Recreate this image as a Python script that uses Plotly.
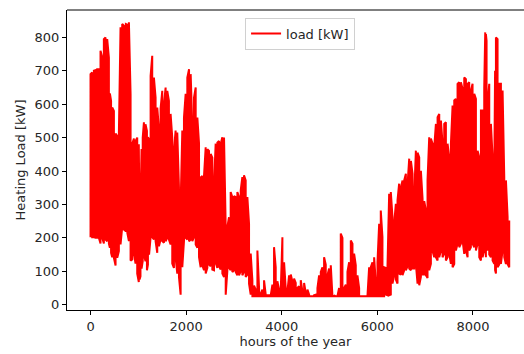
import plotly.graph_objects as go

# hour of the year, upper envelope (peaks) and lower envelope (minima) [kW]
hours = [0, 35, 70, 105, 140, 175, 209, 245, 279, 314, 349, 384, 405, 430, 454, 489, 524, 559, 593, 628, 663, 698, 740, 770, 803, 838, 873, 908, 942, 977, 1010, 1026, 1045, 1068, 1092, 1117, 1150, 1180, 1201, 1225, 1257, 1291, 1326, 1361, 1396, 1431, 1466, 1501, 1536, 1571, 1606, 1640, 1675, 1710, 1745, 1780, 1815, 1850, 1885, 1920, 1955, 1990, 2025, 2061, 2095, 2130, 2165, 2200, 2235, 2270, 2304, 2339, 2374, 2409, 2444, 2479, 2514, 2548, 2583, 2618, 2653, 2688, 2723, 2758, 2793, 2828, 2862, 2897, 2932, 2967, 3002, 3037, 3072, 3107, 3142, 3176, 3211, 3246, 3281, 3316, 3351, 3386, 3421, 3456, 3491, 3526, 3560, 3595, 3630, 3665, 3700, 3735, 3770, 3805, 3839, 3874, 3909, 3944, 3979, 4014, 4049, 4083, 4119, 4154, 4189, 4223, 4258, 4293, 4328, 4363, 4398, 4433, 4468, 4503, 4538, 4573, 4607, 4642, 4677, 4712, 4747, 4782, 4817, 4852, 4886, 4921, 4956, 4991, 5026, 5061, 5096, 5130, 5165, 5200, 5235, 5270, 5305, 5340, 5375, 5410, 5445, 5480, 5514, 5549, 5584, 5619, 5654, 5689, 5724, 5758, 5793, 5828, 5863, 5898, 5933, 5968, 6003, 6038, 6072, 6107, 6142, 6177, 6212, 6247, 6282, 6317, 6352, 6387, 6422, 6456, 6492, 6527, 6562, 6597, 6632, 6667, 6702, 6737, 6771, 6806, 6841, 6876, 6911, 6946, 6981, 7016, 7050, 7085, 7120, 7155, 7190, 7225, 7260, 7295, 7330, 7364, 7399, 7434, 7469, 7504, 7539, 7574, 7609, 7643, 7678, 7713, 7748, 7783, 7818, 7853, 7888, 7922, 7957, 7992, 8027, 8062, 8097, 8132, 8167, 8202, 8236, 8257, 8271, 8285, 8306, 8341, 8376, 8411, 8446, 8463, 8481, 8515, 8550, 8585, 8620, 8655, 8690, 8725, 8759]
upper = [690, 695, 700, 702, 705, 705, 760, 740, 795, 800, 795, 740, 632, 610, 590, 580, 512, 505, 512, 830, 840, 835, 840, 838, 845, 630, 482, 497, 490, 500, 480, 232, 300, 466, 500, 546, 540, 520, 501, 495, 685, 745, 680, 620, 590, 527, 587, 640, 600, 650, 640, 610, 571, 500, 461, 521, 515, 351, 300, 521, 560, 631, 680, 705, 690, 531, 620, 650, 560, 482, 381, 385, 385, 471, 465, 460, 451, 440, 362, 482, 485, 490, 482, 501, 500, 232, 232, 262, 337, 322, 325, 322, 337, 322, 342, 382, 387, 372, 322, 242, 153, 73, 57, 45, 162, 50, 33, 45, 73, 30, 28, 28, 28, 60, 172, 112, 70, 45, 40, 202, 127, 50, 40, 88, 90, 70, 78, 65, 50, 55, 73, 40, 65, 35, 45, 30, 25, 25, 28, 30, 50, 88, 98, 112, 142, 120, 88, 108, 118, 50, 28, 25, 25, 50, 213, 200, 50, 60, 98, 127, 192, 182, 153, 118, 88, 50, 25, 25, 25, 25, 25, 112, 112, 127, 142, 65, 127, 242, 282, 202, 112, 110, 112, 332, 337, 262, 242, 302, 312, 362, 351, 372, 372, 392, 360, 437, 430, 392, 322, 461, 455, 441, 401, 317, 310, 282, 372, 501, 497, 482, 470, 541, 561, 571, 551, 482, 541, 546, 482, 441, 482, 596, 611, 616, 661, 666, 666, 646, 680, 675, 661, 666, 641, 661, 631, 616, 461, 441, 581, 581, 650, 815, 810, 790, 601, 661, 541, 441, 392, 700, 800, 795, 661, 661, 641, 382, 372, 262, 252]
lower = [202, 202, 202, 200, 200, 200, 183, 200, 183, 195, 190, 183, 170, 155, 142, 140, 117, 140, 160, 180, 232, 225, 220, 215, 190, 132, 135, 155, 123, 93, 68, 75, 85, 108, 130, 150, 130, 103, 120, 150, 202, 202, 195, 190, 155, 175, 195, 190, 185, 190, 200, 195, 180, 123, 110, 140, 93, 83, 30, 112, 190, 200, 195, 190, 195, 190, 202, 180, 170, 142, 112, 118, 103, 93, 110, 120, 115, 105, 103, 125, 110, 115, 105, 93, 83, 30, 100, 110, 103, 98, 103, 98, 88, 88, 100, 88, 98, 83, 90, 63, 30, 25, 25, 25, 25, 25, 25, 25, 25, 25, 25, 25, 25, 25, 25, 25, 25, 25, 25, 25, 25, 25, 25, 25, 25, 25, 25, 25, 25, 25, 25, 25, 25, 25, 25, 25, 25, 25, 25, 25, 25, 25, 25, 25, 25, 25, 25, 25, 25, 25, 25, 25, 25, 25, 25, 25, 25, 25, 25, 25, 25, 25, 25, 25, 25, 25, 25, 25, 25, 25, 25, 25, 25, 25, 25, 25, 25, 25, 25, 25, 25, 30, 28, 28, 30, 63, 88, 75, 63, 93, 90, 88, 103, 103, 115, 108, 103, 108, 108, 122, 63, 58, 83, 90, 90, 88, 80, 103, 122, 160, 142, 142, 132, 142, 162, 142, 152, 132, 142, 152, 122, 112, 122, 162, 182, 172, 182, 192, 152, 162, 142, 162, 172, 182, 172, 162, 182, 142, 132, 142, 162, 182, 142, 192, 162, 150, 142, 132, 122, 103, 93, 112, 120, 122, 162, 142, 122, 122, 112, 93, 88, 103]

series_name = "load [kW]"
x_ticks = [0, 2000, 4000, 6000, 8000]
y_ticks = [0, 100, 200, 300, 400, 500, 600, 700, 800]

# hourly load drawn as a line sweeping between each period's minimum and peak
xs, ys = [], []
for i, h in enumerate(hours):
    xs += [h, h]
    if i % 2 == 0:
        ys += [lower[i], upper[i]]
    else:
        ys += [upper[i], lower[i]]

FONT = "DejaVu Sans"
TXT = "#262626"
fig = go.Figure()
fig.add_trace(go.Scatter(x=xs, y=ys, mode="lines", name=series_name,
                         line=dict(color="#ff0000", width=2), showlegend=True))

axis_common = dict(showgrid=False, zeroline=False, showline=True, linecolor="#000000",
                   linewidth=1, ticks="outside", ticklen=4, tickwidth=1, tickcolor="#000000",
                   tickfont=dict(family=FONT, size=13, color=TXT))
fig.update_layout(
    width=524, height=354,
    margin=dict(l=67, r=0, t=10, b=44),
    paper_bgcolor="white", plot_bgcolor="white",
    font=dict(family=FONT, size=13, color=TXT),
    xaxis=dict(range=[-492, 9068], tickvals=x_ticks, **axis_common,
               title=dict(text="hours of the year", font=dict(family=FONT, size=13, color=TXT), standoff=2)),
    yaxis=dict(range=[-16, 882], tickvals=y_ticks, **axis_common,
               title=dict(text="Heating Load [kW]", font=dict(family=FONT, size=13, color=TXT), standoff=6)),
    legend=dict(x=0.51, y=0.975, xanchor="center", yanchor="top", itemwidth=30,
                bgcolor="rgba(255,255,255,0.85)", bordercolor="#d0d0d0", borderwidth=1,
                font=dict(family=FONT, size=13, color=TXT)),
    shapes=[dict(type="line", xref="paper", yref="paper", x0=0, x1=1, y0=1, y1=1,
                 line=dict(color="#000000", width=1))],
)
fig.write_html("out.html")
